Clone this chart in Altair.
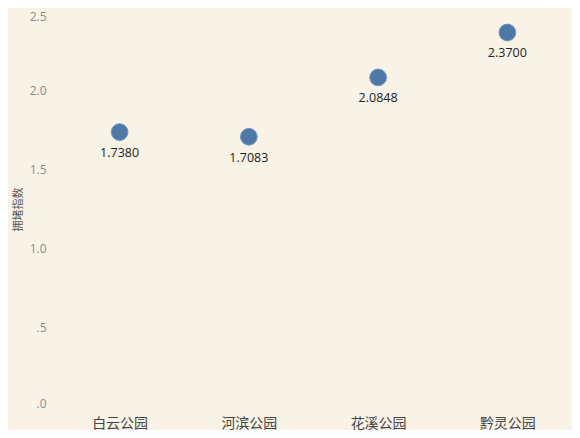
import altair as alt
import pandas as pd

parks = ["白云公园", "河滨公园", "花溪公园", "黔灵公园"]
values = [1.7380, 1.7083, 2.0848, 2.3700]
y_ticks = [0, 0.5, 1.0, 1.5, 2.0, 2.5]

df = pd.DataFrame({"park": parks, "value": values})

BG = "#f9f3e7"
BLUE = "#4e79a7"

x = alt.X(
    "park:N",
    sort=parks,
    title=None,
    scale=alt.Scale(paddingInner=0, paddingOuter=0),
    axis=alt.Axis(
        labelAngle=0,
        labelFont="Noto Sans CJK SC",
        labelFontSize=14,
        labelColor="#444444",
        labelPadding=10,
        ticks=False,
        domain=False,
        grid=False,
    ),
)
y = alt.Y(
    "value:Q",
    title="拥堵指数",
    scale=alt.Scale(domain=[0, 2.5], nice=False, zero=True),
    axis=alt.Axis(
        values=y_ticks,
        labelExpr="datum.value < 1 ? substring(format(datum.value, '.1f'), 1) : format(datum.value, '.1f')",
        labelOffset=alt.expr("datum.value >= 2.5 ? 4 : (datum.value == 0 ? -3 : 0)"),
        labelFont="Open Sans",
        labelFontSize=12,
        labelColor="#8a8a8a",
        labelPadding=9,
        ticks=False,
        domain=False,
        grid=False,
        titleFont="Noto Sans CJK SC",
        titleFontSize=11,
        titleFontWeight="normal",
        titleColor="#555555",
        titlePadding=6,
    ),
)

points = alt.Chart(df).mark_circle(size=280, color=BLUE, opacity=1, stroke="#6f94bd", strokeWidth=1).encode(x=x, y=y)

labels = alt.Chart(df).mark_text(
    dy=21, font="Open Sans", fontSize=12.5, color="#222222"
).encode(x=x, y=y, text=alt.Text("value:Q", format=".4f"))

chart = (
    alt.layer(points, labels)
    .properties(
        width=517,
        height=394,
        background=BG,
        autosize=alt.AutoSizeParams(type="none"),
        padding={"left": 47, "top": 4, "right": 0, "bottom": 24},
    )
    .configure_view(stroke=None, fill=BG)
)

chart.save("out.html", embed_options={"renderer": "svg", "actions": False})
